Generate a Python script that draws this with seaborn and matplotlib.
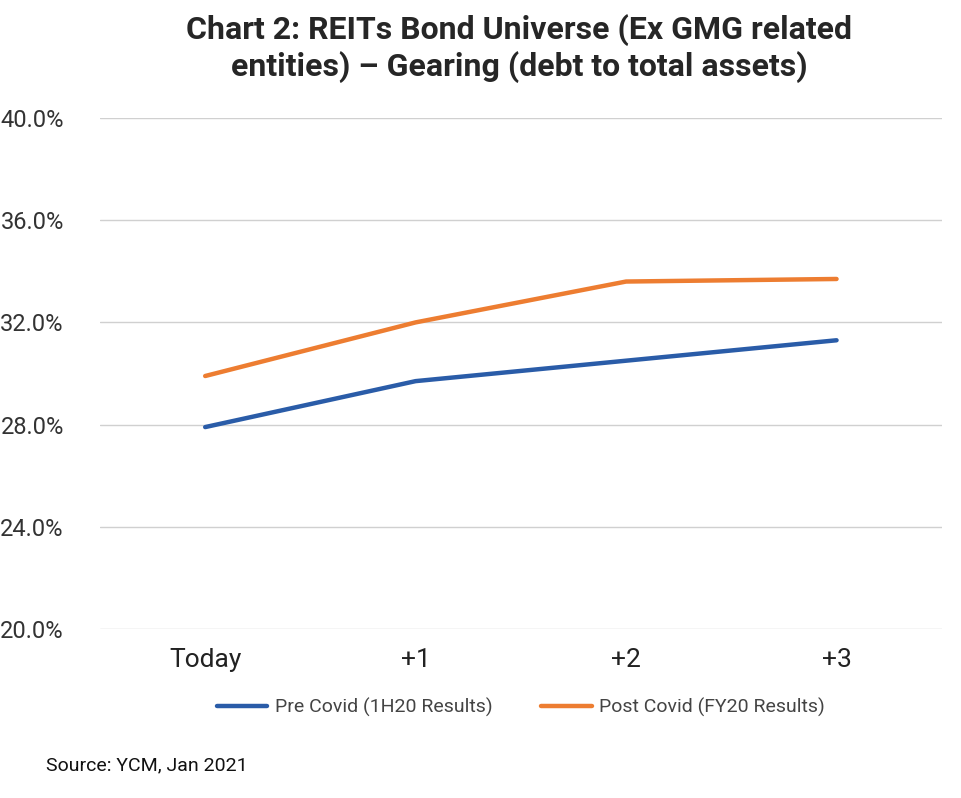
import matplotlib
matplotlib.use("Agg")
import matplotlib.pyplot as plt
import seaborn as sns
import pandas as pd
from matplotlib.ticker import FuncFormatter

periods = ["Today", "+1", "+2", "+3"]
pre_covid = [27.9, 29.7, 30.5, 31.3]
post_covid = [29.9, 32.0, 33.6, 33.7]

df = pd.DataFrame({
    "period": periods * 2,
    "gearing": pre_covid + post_covid,
    "series": ["Pre Covid (1H20 Results)"] * 4 + ["Post Covid (FY20 Results)"] * 4,
})

sns.set_style("white")
plt.rcParams["font.family"] = ["Roboto", "DejaVu Sans"]

fig = plt.figure(figsize=(9.61, 7.98), dpi=100)
ax = fig.add_axes([0.104, 0.212, 0.876, 0.64])
sns.lineplot(data=df, x="period", y="gearing", hue="series", sort=False,
             palette=["#2a5ca8", "#ed7d31"], linewidth=3.2, ax=ax)

ax.set_ylim(20, 40)
ax.set_xlim(-0.5, 3.5)
ax.set_yticks([20, 24, 28, 32, 36, 40])
ax.yaxis.set_major_formatter(FuncFormatter(lambda v, p: f"{v:.1f}%"))
ax.grid(axis="y", color="#d0d0d0", linewidth=1)
ax.set_axisbelow(True)
for s in ax.spines.values():
    s.set_visible(False)
ax.tick_params(axis="y", labelsize=17, colors="#333333", length=0, pad=26)
ax.tick_params(axis="x", labelsize=19, colors="#222222", length=0, pad=14)
ax.set_xlabel("")
ax.set_ylabel("")

ax.legend(loc="upper center", bbox_to_anchor=(0.5, -0.1), ncol=2, frameon=False,
          fontsize=14, handlelength=2.6, handletextpad=0.4, columnspacing=2.5,
          labelcolor="#444444")

fig.text(0.54, 0.982, "Chart 2: REITs Bond Universe (Ex GMG related\nentities) \u2013 Gearing (debt to total assets)",
         ha="center", va="top", fontsize=23, fontweight="bold", linespacing=1.2)
fig.text(0.048, 0.035, "Source: YCM, Jan 2021", fontsize=14, color="#111111")

fig.savefig("out.png", dpi=100)
